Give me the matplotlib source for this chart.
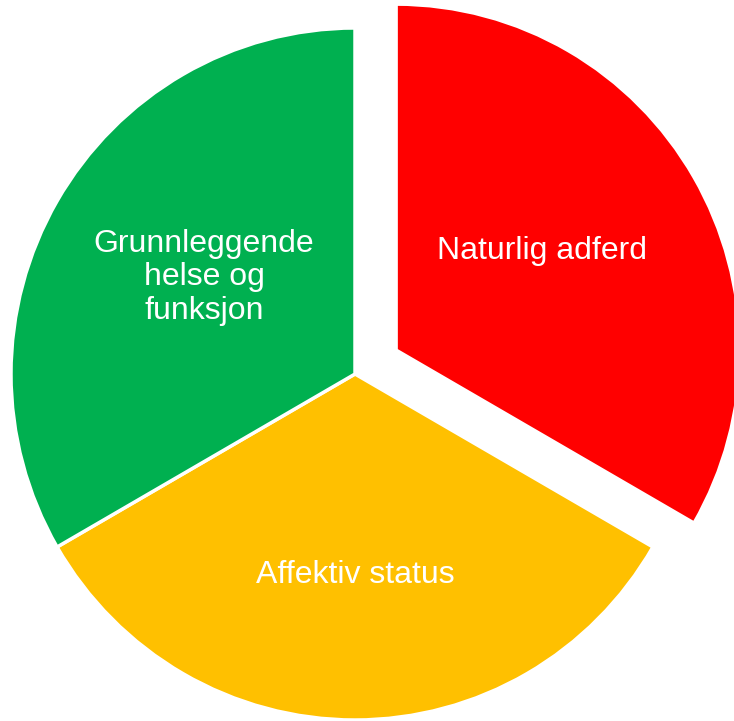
import numpy as np
import matplotlib.pyplot as plt

labels = ['Naturlig adferd', 'Affektiv status', 'Grunnleggende\nhelse og\nfunksjon']
values = [1, 1, 1]
colors = ['#FF0000', '#FFC000', '#00B050']
explode = [0.138, 0, 0]

# label placement inside each wedge: (distance from wedge tip, angle shift in degrees)
label_pos = [(0.51, 4), (0.58, 0), (0.52, -2.5)]

fig = plt.figure(figsize=(7.34, 7.21), dpi=100)
ax = fig.add_axes([0, 0, 1, 1])

wedges, texts = ax.pie(values, labels=labels, colors=colors, explode=explode,
                       startangle=90, counterclock=False,
                       wedgeprops=dict(edgecolor='white', linewidth=2.5),
                       textprops=dict(color='white', fontsize=23,
                                      family='Liberation Sans',
                                      ha='center', va='center'))

for w, t, (d, shift) in zip(wedges, texts, label_pos):
    ang = np.deg2rad((w.theta1 + w.theta2) / 2 + shift)
    cx, cy = w.center
    t.set_position((cx + d * np.cos(ang), cy + d * np.sin(ang)))
    t.set_linespacing(1.15)

# map pie centre to pixel (355, 374), radius ~344 x 346 px
rx, ry = 344.0, 346.0
ax.set_xlim(-355 / rx, (734 - 355) / rx)
ax.set_ylim(-(721 - 374) / ry, 374 / ry)
ax.set_aspect('auto')
ax.axis('off')

fig.savefig('out.png', dpi=100)
